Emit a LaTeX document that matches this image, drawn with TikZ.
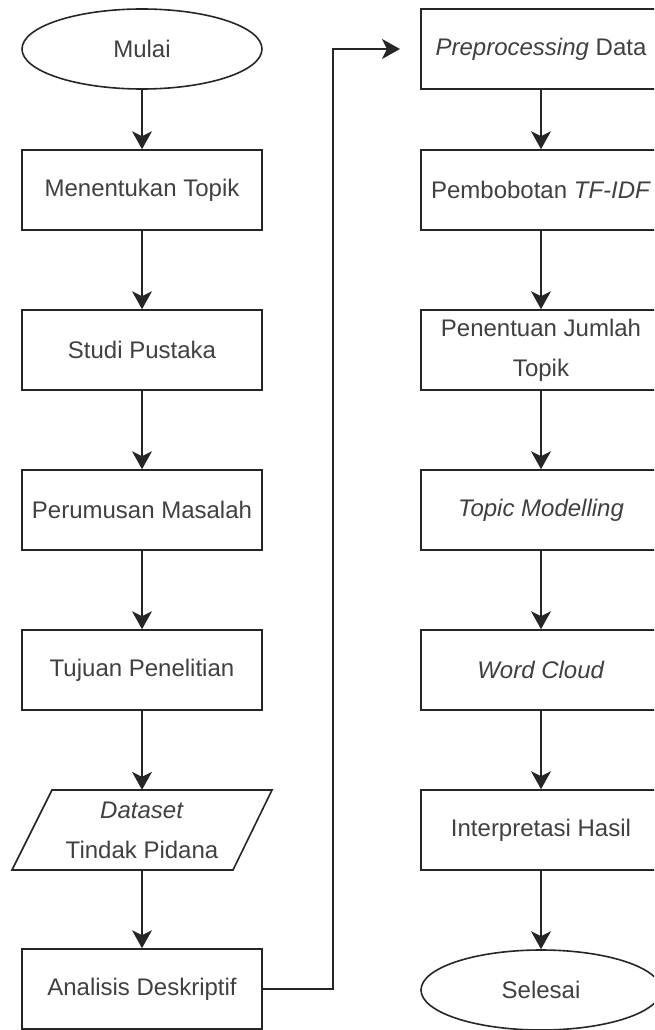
\documentclass[tikz,border=0pt]{standalone}
\usepackage{fontspec}
\setmainfont{Liberation Sans}
\usetikzlibrary{arrows.meta,shapes.geometric}
\begin{document}
\begin{tikzpicture}[x=1pt,y=-1pt,
  txt/.style={inner sep=0pt, align=center, text=black!75, font=\fontsize{24}{40}\selectfont},
  box/.style={txt, draw=black!85, line width=1.6pt, minimum width=240pt, minimum height=80pt},
  term/.style={box, ellipse},
  io/.style={txt, minimum width=220pt, minimum height=80pt},
  para/.style={draw=black!85, line width=1.6pt, line join=miter},
  flow/.style={draw=black!85, line width=1.6pt, -{Stealth[length=18pt,width=20pt,inset=5pt]}}]
\path[use as bounding box] (0,0) rectangle (654,1030);
\clip (0,0) rectangle (654,1030);
% left column
\node[term] (mulai) at (142,49) {Mulai};
\node[box] (topik) at (142,190) {Menentukan Topik};
\node[box] (studi) at (142,350) {Studi Pustaka};
\node[box] (rumus) at (142,510) {Perumusan Masalah};
\node[box] (tujuan) at (142,670) {Tujuan Penelitian};
\node[io] (ds) at (142,830) {\textit{Dataset}\\Tindak Pidana};
\draw[para] (ds.center) ++(-130,40) -- ++(221,0) -- ++(39,-80) -- ++(-220,0) -- cycle;
\node[box] (anal) at (142,989) {Analisis Deskriptif};
% right column
\node[box] (pre) at (541,49) {\textit{Preprocessing} Data};
\node[box] (tfidf) at (541,190) {Pembobotan \textit{TF-IDF}};
\node[box] (jml) at (541,350) {Penentuan Jumlah\\Topik};
\node[box] (tm) at (541,510) {\textit{Topic Modelling}};
\node[box] (wc) at (541,670) {\textit{Word Cloud}};
\node[box] (interp) at (541,830) {Interpretasi Hasil};
\node[term] (selesai) at (541,990) {Selesai};
% connectors
\draw[flow] (mulai) -- (topik);
\draw[flow] (topik) -- (studi);
\draw[flow] (studi) -- (rumus);
\draw[flow] (rumus) -- (tujuan);
\draw[flow] (tujuan) -- (ds);
\draw[flow] (ds) -- (anal);
\coordinate (tipend) at (400,49);
\draw[flow] (anal.east) -- ++(70,0) |- (tipend);
\draw[flow] (pre) -- (tfidf);
\draw[flow] (tfidf) -- (jml);
\draw[flow] (jml) -- (tm);
\draw[flow] (tm) -- (wc);
\draw[flow] (wc) -- (interp);
\draw[flow] (interp) -- (selesai);
\end{tikzpicture}
\end{document}
